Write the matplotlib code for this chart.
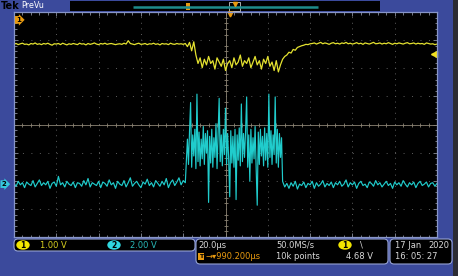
import numpy as np
import matplotlib
matplotlib.use("Agg")
import matplotlib.pyplot as plt
from matplotlib.patches import Rectangle, FancyBboxPatch, Ellipse
import matplotlib.transforms as mtransforms

plt.rcParams['lines.scale_dashes'] = False
plt.rcParams['font.family'] = ['DejaVu Sans']

W, H = 458, 276

# time base: 20 us/div, 10 div, one sample per us
t = np.arange(-100, 101, 1)

# channel 1 (1.00 V/div), volts
ch1_scale = 1.00
ch1_offset = 3.72  # divisions
ch1 = [
    -0.86, -0.84, -0.88, -0.85, -0.83, -0.87, -0.86, -0.89, -0.84, -0.86,
    -0.82, -0.87, -0.85, -0.88, -0.84, -0.86, -0.83, -0.87, -0.90, -0.85,
    -0.86, -0.84, -0.88, -0.83, -0.86, -0.89, -0.85, -0.87, -0.84, -0.86,
    -0.88, -0.83, -0.86, -0.85, -0.89, -0.84, -0.87, -0.85, -0.82, -0.86,
    -0.88, -0.84, -0.86, -0.83, -0.87, -0.85, -0.84, -0.86, -0.88, -0.86,
    -0.85, -0.87, -0.83, -0.86, -0.74, -0.84, -0.86, -0.88, -0.85, -0.83,
    -0.87, -0.86, -0.84, -0.88, -0.85, -0.86, -0.83, -0.87, -0.85, -0.89,
    -0.84, -0.86, -0.85, -0.88, -0.83, -0.86, -0.87, -0.84, -0.86, -0.85,
    -0.87, -0.84,
    -0.95, -0.80, -1.10, -0.78, -1.25,
    -1.55, -1.35, -1.70, -1.40, -1.60, -1.30, -1.55, -1.45, -1.75, -1.35,
    -1.50, -1.65, -1.40, -1.80, -1.55, -1.45, -1.70, -1.35, -1.60, -1.50,
    -1.25, -1.65, -1.45, -1.55, -1.35, -1.70, -1.50, -1.30, -1.60, -1.45,
    -1.75, -1.40, -1.55, -1.30, -1.65, -1.50, -1.80, -1.45, -1.85, -1.60,
    -1.40,
    -1.30, -1.25, -1.15, -1.18, -1.05, -1.08, -0.98, -0.95, -0.92, -0.90,
    -0.87, -0.88, -0.85,
    -0.84, -0.82, -0.86, -0.83, -0.80, -0.85, -0.82, -0.84, -0.87, -0.83,
    -0.81, -0.85, -0.83, -0.86, -0.82, -0.84, -0.80, -0.85, -0.83, -0.86,
    -0.84, -0.81, -0.85, -0.83, -0.87, -0.82, -0.84, -0.86, -0.83, -0.80,
    -0.85, -0.84, -0.82, -0.86, -0.83, -0.85, -0.81, -0.84, -0.87, -0.83,
    -0.85, -0.82, -0.84, -0.86, -0.83, -0.81, -0.85, -0.84, -0.82, -0.86,
    -0.83, -0.85, -0.84, -0.87, -0.82, -0.84, -0.86, -0.85, -0.88, -0.86,
]

# channel 2 (2.00 V/div), volts; burst sampled every 0.5 us
ch2_scale = 2.00
ch2_offset = -2.12
ch2_pre = [
    0.05, -0.15, 0.20, -0.05, 0.10, -0.25, 0.15, 0.00, -0.10, 0.25,
    -0.20, 0.05, 0.30, -0.10, 0.10, -0.05, 0.20, -0.30, 0.05, 0.15,
    -0.15, 0.55, -0.05, 0.10, -0.20, 0.20, 0.00, -0.10, 0.15, -0.25,
    0.10, 0.05, -0.15, 0.25, -0.05, 0.40, -0.20, 0.10, 0.00, -0.10,
    0.20, -0.25, 0.15, 0.05, -0.15, 0.30, -0.05, 0.10, -0.30, 0.20,
    0.00, -0.10, 0.25, -0.20, 0.10, 0.45, -0.15, 0.05, 0.20, -0.05,
    -0.25, 0.15, 0.00, 0.35, -0.10, 0.10, -0.20, 0.25, 0.05, -0.15,
    0.20, -0.05, 0.40, -0.25, 0.10, 0.30, -0.10, 0.15, 0.45, -0.05,
    0.25, 0.10,
]
ch2_burst = [
    3.2, 1.4, 3.8, 5.8, 1.2, 3.5, 2.0, 3.9, 1.1, 6.4,
    1.6, 3.7, 1.3, 3.2, 1.8, 4.1, 1.4, 3.6, 2.2, 3.8,
    -1.3, 3.4, 1.5, 3.9, 1.2, 3.3, 1.9, 4.3, 1.1, 3.7,
    6.1, 1.6, 3.5, 1.3, 3.9, 2.1, 5.4, 1.4, 3.6, 1.8,
    -0.9, 3.8, 1.5, 3.4, 1.2, 3.9, -1.1, 3.5, 1.7, 4.0,
    1.3, 5.7, 1.6, 3.6, 1.9, 3.8, 6.2, 1.2, 3.5, 0.2,
    3.9, 1.5, 3.3, 1.8, 4.1, 1.1, -1.5, 3.7, 1.4, 3.9,
    2.0, 3.4, 1.3, 4.0, 1.7, 3.6, 1.2, 6.4, 1.9, 3.8,
    1.4, 3.5, 2.1, 6.2, 1.5, 3.9, 1.2, 3.6, 1.9, 3.3,
    0.2,
]
ch2_post = [
    -0.20, 0.05, -0.30, 0.10, -0.15, 0.20, -0.35, 0.00, -0.10, 0.15,
    -0.25, 0.05, -0.05, 0.20, -0.30, 0.10, -0.15, 0.00, 0.25, -0.20,
    0.05, -0.10, 0.15, -0.25, 0.10, -0.05, 0.20, -0.15, 0.00, 0.30,
    -0.20, 0.10, -0.05, 0.15, -0.30, 0.05, 0.20, -0.10, 0.00, -0.25,
    0.15, 0.05, -0.15, 0.25, -0.05, 0.10, -0.20, 0.00, 0.20, -0.10,
    0.05, -0.30, 0.15, -0.05, 0.10, -0.15, 0.25, 0.00, -0.20, 0.10,
    -0.05, 0.15, -0.25, 0.05, 0.20, -0.10, 0.00, 0.15, -0.20, 0.05,
    0.10, -0.15, 0.05,
]
burst_start = -18.0
t2 = np.concatenate([
    np.arange(-100, -100 + len(ch2_pre)),
    burst_start + 0.5 * np.arange(len(ch2_burst)),
    np.arange(101 - len(ch2_post), 101),
])
ch2 = ch2_pre + ch2_burst + ch2_post

trig_time = 2.0     # us
trig_level = 2.51   # divisions on screen

BLUE = '#3b4a9c'
YEL = '#e4e230'
CYAN = '#20cccc'
ORANGE = '#e89a10'

fig = plt.figure(figsize=(W / 100, H / 100), dpi=100, facecolor=BLUE)

# pixel-space background layer
bg = fig.add_axes([0, 0, 1, 1])
bg.set_xlim(0, W)
bg.set_ylim(H, 0)
bg.axis('off')

bg.add_patch(Rectangle((453, 0), 5, H, color='#2c2c34', lw=0))
bg.add_patch(Rectangle((70, 1), 310, 10, color='black', lw=0))
bg.plot([133, 318], [6.5, 6.5], color='#1e8c8c', lw=1.8, solid_capstyle='butt')
bg.add_patch(Rectangle((186, 3), 4, 7, color=ORANGE, lw=0))
bg.add_patch(Rectangle((229, 1.5), 11, 9.5, fill=False, ec='#c8c8c8', lw=0.6))
bg.plot([234.5], [4], marker='v', color=ORANGE, ms=3)
bg.text(0.5, 6, 'Tek', color='black', fontsize=7, fontweight='bold', va='center')
bg.text(21, 6, 'PreVu', color='white', fontsize=5.8, va='center')

panels = [(14, 239, 181, 12), (196, 239, 192, 25), (390, 239, 62, 25)]
for x0, y0, w, h in panels:
    bg.add_patch(FancyBboxPatch((x0, y0), w, h, boxstyle='round,pad=0,rounding_size=4',
                                fc='black', ec='#95a2d2', lw=0.8))

fs = 6
bg.add_patch(Ellipse((23, 245), 12, 8, color='#f2e600'))
bg.text(23, 245.3, '1', color='black', fontsize=5.5, fontweight='bold', ha='center', va='center')
bg.text(40, 245, '1.00 V', color='#d8d020', fontsize=fs, va='center')
bg.add_patch(Ellipse((114, 245), 12, 8, color='#30d8e0'))
bg.text(114, 245.3, '2', color='black', fontsize=5.5, fontweight='bold', ha='center', va='center')
bg.text(130, 245, '2.00 V', color='#28b8b8', fontsize=fs, va='center')

bg.text(198, 245, '20.0µs', color='#d8d8d8', fontsize=fs, va='center')
bg.text(276, 245, '50.0MS/s', color='#d8d8d8', fontsize=fs, va='center')
bg.add_patch(Ellipse((345, 245), 12, 8, color='#f2e600'))
bg.text(345, 245.3, '1', color='black', fontsize=5.5, fontweight='bold', ha='center', va='center')
bg.text(360, 245, '\\', color='#d8d8d8', fontsize=fs, va='center')
bg.add_patch(Rectangle((198, 253), 6, 7, color=ORANGE, lw=0))
bg.text(201, 256.5, 'T', color='black', fontsize=4.5, fontweight='bold', ha='center', va='center')
bg.text(205, 256.5, '→▾990.200µs', color=ORANGE, fontsize=fs, va='center')
bg.text(276, 256.5, '10k points', color='#d8d8d8', fontsize=fs, va='center')
bg.text(346, 256.5, '4.68 V', color='#d8d8d8', fontsize=fs, va='center')

bg.text(395, 245, '17 Jan', color='#d8d8d8', fontsize=fs, va='center')
bg.text(428, 245, '2020', color='#d8d8d8', fontsize=fs, va='center')
bg.text(395, 256.5, '16: 05: 27', color='#d8d8d8', fontsize=fs, va='center')

# scope screen
ax = fig.add_axes([14 / W, 1 - 237 / H, 423 / W, 225 / H], facecolor='black', zorder=3)
ax.set_xlim(-100, 100)
ax.set_ylim(-4, 4)
ax.set_xticks(np.arange(-100, 101, 20))
ax.set_xticks(np.arange(-100, 101, 4), minor=True)
ax.set_yticks(np.arange(-4, 5, 1))
ax.set_yticks(np.arange(-4, 4.01, 0.2), minor=True)
ax.tick_params(which='both', direction='in', top=True, right=True,
               labelbottom=False, labelleft=False, color='#8a8f9c', width=0.6)
ax.tick_params(which='major', length=3)
ax.tick_params(which='minor', length=1.8)
ax.xaxis.grid(True, which='major', color='#5e5e5e', lw=0.7, linestyle=(0, (0.7, 3.35)))
ax.yaxis.grid(True, which='major', color='#5e5e5e', lw=0.7, linestyle=(0, (0.7, 5.39)))
for s in ax.spines.values():
    s.set_color('#8795c8')
    s.set_linewidth(0.9)

ax.axhline(0, color='#8c8474', lw=0.6)
ax.axvline(0, color='#8c8474', lw=0.6)
mx = ax.get_xticks(minor=True)
my = ax.get_yticks(minor=True)
ax.plot(mx, np.zeros_like(mx), ls='none', marker='|', ms=3, mew=0.6, color='#8c8474')
ax.plot(np.zeros_like(my), my, ls='none', marker='_', ms=3, mew=0.6, color='#8c8474')

y1 = np.array(ch1) / ch1_scale + ch1_offset
y2 = np.array(ch2) / ch2_scale + ch2_offset
ax.plot(t, y1, color=YEL, lw=0.9)
ax.plot(t2, y2, color=CYAN, lw=0.85)

# channel ground markers, trigger markers
blend = mtransforms.blended_transform_factory(ax.transAxes, ax.transData)
ax.text(0.004, ch1_offset, '1', transform=blend, color='black', fontsize=5, fontweight='bold',
        va='center', ha='left', clip_on=False,
        bbox=dict(boxstyle='rarrow,pad=0.12', fc=ORANGE, ec='none'))
ax.text(-0.03, ch2_offset, '2', transform=blend, color='black', fontsize=5, fontweight='bold',
        va='center', ha='left', clip_on=False,
        bbox=dict(boxstyle='rarrow,pad=0.12', fc='#35c8dc', ec='none'))
ax.plot([98.5], [trig_level], marker='<', color='#f0e020', ms=4, clip_on=False)
ax.plot([trig_time], [3.93], marker='v', color=ORANGE, ms=3.5, clip_on=False)

fig.savefig('out.png', dpi=100, facecolor=fig.get_facecolor())
